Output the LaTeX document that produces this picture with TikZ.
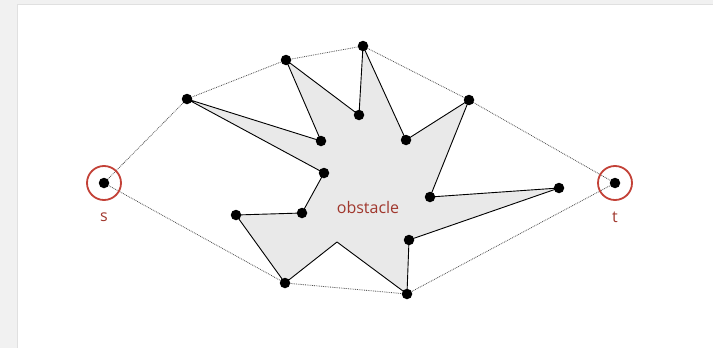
\documentclass[tikz,border=0pt]{standalone}
\usepackage{fontspec}
\setmainfont{Open Sans}
\definecolor{lab}{RGB}{160,55,45}
\definecolor{ring}{RGB}{195,65,55}
\definecolor{obst}{RGB}{233,233,233}
\definecolor{frame}{RGB}{241,241,241}
\tikzset{
  vtx/.style={circle,fill=black,inner sep=0pt,minimum size=10.5pt},
  hull/.style={densely dotted,draw=black!70,line width=0.8pt},
  edge/.style={draw=black,line width=0.9pt},
  lbl/.style={text=lab,font=\fontsize{16}{19}\selectfont}
}
\begin{document}
\begin{tikzpicture}[x=1pt,y=-1pt]
\useasboundingbox (0,0) rectangle (713,348);
\fill[frame] (0,0) rectangle (713,348);
\fill[black!12] (17,4) rectangle (713,348);
\fill[white] (18,5) rectangle (713,348);
% obstacle coordinates
\coordinate (A) at (187,99);
\coordinate (p1) at (321,141);
\coordinate (B) at (286,60);
\coordinate (p2) at (359,115);
\coordinate (C) at (363,46);
\coordinate (p3) at (406,140);
\coordinate (D) at (469,100);
\coordinate (p4) at (430,197);
\coordinate (E) at (559,188);
\coordinate (p5) at (409,240);
\coordinate (F) at (407,294);
\coordinate (n) at (337,242);
\coordinate (G) at (285,283);
\coordinate (p6) at (236,215);
\coordinate (p7) at (302,213);
\coordinate (p8) at (324,173);
\coordinate (s) at (104,183);
\coordinate (t) at (615,183);
\filldraw[fill=obst,edge,line join=round] (A) -- (p1) -- (B) -- (p2) -- (C) -- (p3) -- (D) -- (p4) -- (E) -- (p5) -- (F) -- (n) -- (G) -- (p6) -- (p7) -- (p8) -- cycle;
\draw[hull] (s) -- (A) -- (B) -- (C) -- (D) -- (t) -- (F) -- (G) -- (s);
\foreach \p in {A,p1,B,p2,C,p3,D,p4,E,p5,F,G,p6,p7,p8,s,t}
  \node[vtx] (v\p) at (\p) {};
\node[circle,draw=ring,line width=1.8pt,minimum size=34pt,inner sep=0pt] (rs) at (s) {};
\node[circle,draw=ring,line width=1.8pt,minimum size=34pt,inner sep=0pt] (rt) at (t) {};
\node[lbl] (ls) at (104,217) {s};
\node[lbl] (lt) at (615,217) {t};
\node[lbl] (lo) at (368,207) {obstacle};
\end{tikzpicture}
\end{document}
